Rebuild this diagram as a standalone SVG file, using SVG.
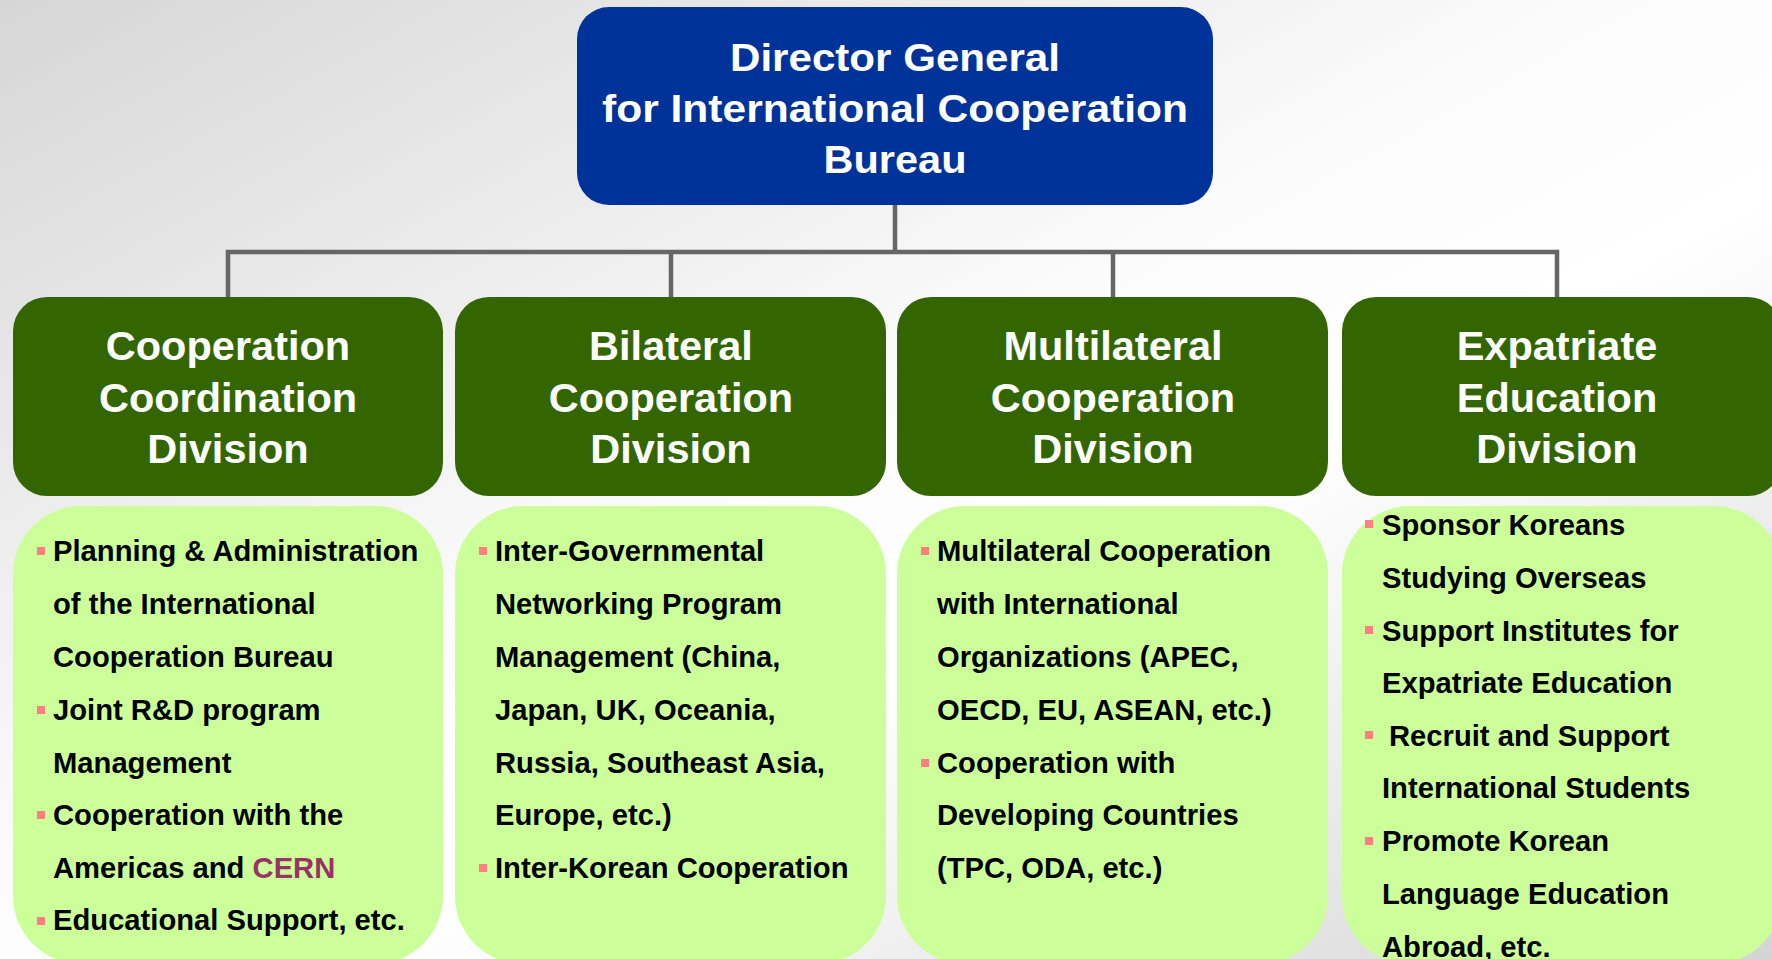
<svg xmlns="http://www.w3.org/2000/svg" width="1772" height="959" viewBox="0 0 1772 959">
<defs>
<linearGradient id="bg" x1="0" y1="0" x2="1" y2="1">
<stop offset="0" stop-color="#d6d6d6"/>
<stop offset="0.45" stop-color="#fbfbfb"/>
<stop offset="0.6" stop-color="#ffffff"/>
<stop offset="1" stop-color="#d4d4d4"/>
</linearGradient>
<style>
.top{fill:#003399}
.hdr{fill:#336600}
.body{fill:#ccff99}
.tt{font-family:"Liberation Sans",Arial,sans-serif;font-weight:bold;font-size:38px;fill:#fff;text-anchor:middle}
.ht{font-family:"Liberation Sans",Arial,sans-serif;font-weight:bold;font-size:41.5px;fill:#fff;text-anchor:middle}
.bt{font-family:"Liberation Sans",Arial,sans-serif;font-weight:bold;font-size:29.2px;fill:#000}
.cern{fill:#993366}
.bul{fill:#ff7f7f}
.conn{stroke:#666;stroke-width:4.5;fill:none}
</style>
</defs>
<rect x="0" y="0" width="1772" height="959" fill="url(#bg)"/>

<g id="connectors">
<path class="conn" d="M895 205 V252"/>
<path class="conn" d="M228 297 V252 H1557 V297"/>
<path class="conn" d="M671 252 V297"/>
<path class="conn" d="M1113 252 V297"/>
</g>

<g id="director">
<rect class="top" x="577" y="7" width="636" height="198" rx="32"/>
<text class="tt" x="895" y="71" textLength="330" lengthAdjust="spacingAndGlyphs">Director General</text>
<text class="tt" x="895" y="122" textLength="586" lengthAdjust="spacingAndGlyphs">for International Cooperation</text>
<text class="tt" x="895" y="173" textLength="143" lengthAdjust="spacingAndGlyphs">Bureau</text>
</g>

<g id="div1">
<rect class="hdr" x="13" y="297" width="430" height="199" rx="34"/>
<text class="ht" x="228" y="360">Cooperation</text>
<text class="ht" x="228" y="412">Coordination</text>
<text class="ht" x="228" y="463">Division</text>
</g>
<g id="div2">
<rect class="hdr" x="455" y="297" width="431" height="199" rx="34"/>
<text class="ht" x="671" y="360">Bilateral</text>
<text class="ht" x="671" y="412">Cooperation</text>
<text class="ht" x="671" y="463">Division</text>
</g>
<g id="div3">
<rect class="hdr" x="897" y="297" width="431" height="199" rx="34"/>
<text class="ht" x="1113" y="360">Multilateral</text>
<text class="ht" x="1113" y="412">Cooperation</text>
<text class="ht" x="1113" y="463">Division</text>
</g>
<g id="div4">
<rect class="hdr" x="1342" y="297" width="440" height="199" rx="34"/>
<text class="ht" x="1557" y="360">Expatriate</text>
<text class="ht" x="1557" y="412">Education</text>
<text class="ht" x="1557" y="463">Division</text>
</g>

<g id="tasks1">
<rect class="body" x="13" y="506" width="430" height="458" rx="68"/>
<rect class="bul" x="37" y="547" width="8" height="8"/>
<rect class="bul" x="37" y="706" width="8" height="8"/>
<rect class="bul" x="37" y="811" width="8" height="8"/>
<rect class="bul" x="37" y="917" width="8" height="8"/>
<text class="bt" x="53" y="561">Planning &amp; Administration</text>
<text class="bt" x="53" y="614">of the International</text>
<text class="bt" x="53" y="667">Cooperation Bureau</text>
<text class="bt" x="53" y="720">Joint R&amp;D program</text>
<text class="bt" x="53" y="773">Management</text>
<text class="bt" x="53" y="825">Cooperation with the</text>
<text class="bt" x="53" y="878">Americas and <tspan class="cern">CERN</tspan></text>
<text class="bt" x="53" y="930">Educational Support, etc.</text>
</g>

<g id="tasks2">
<rect class="body" x="455" y="506" width="431" height="458" rx="68"/>
<rect class="bul" x="479" y="547" width="8" height="8"/>
<rect class="bul" x="479" y="864" width="8" height="8"/>
<text class="bt" x="495" y="561">Inter-Governmental</text>
<text class="bt" x="495" y="614">Networking Program</text>
<text class="bt" x="495" y="667">Management (China,</text>
<text class="bt" x="495" y="720">Japan, UK, Oceania,</text>
<text class="bt" x="495" y="773">Russia, Southeast Asia,</text>
<text class="bt" x="495" y="825">Europe, etc.)</text>
<text class="bt" x="495" y="878">Inter-Korean Cooperation</text>
</g>

<g id="tasks3">
<rect class="body" x="897" y="506" width="431" height="458" rx="68"/>
<rect class="bul" x="921" y="547" width="8" height="8"/>
<rect class="bul" x="921" y="759" width="8" height="8"/>
<text class="bt" x="937" y="561">Multilateral Cooperation</text>
<text class="bt" x="937" y="614">with International</text>
<text class="bt" x="937" y="667">Organizations (APEC,</text>
<text class="bt" x="937" y="720">OECD, EU, ASEAN, etc.)</text>
<text class="bt" x="937" y="773">Cooperation with</text>
<text class="bt" x="937" y="825">Developing Countries</text>
<text class="bt" x="937" y="878">(TPC, ODA, etc.)</text>
</g>

<g id="tasks4">
<rect class="body" x="1342" y="506" width="440" height="458" rx="68"/>
<rect class="bul" x="1365" y="520" width="8" height="8"/>
<rect class="bul" x="1365" y="626" width="8" height="8"/>
<rect class="bul" x="1365" y="731" width="8" height="8"/>
<rect class="bul" x="1365" y="837" width="8" height="8"/>
<text class="bt" x="1382" y="535">Sponsor Koreans</text>
<text class="bt" x="1382" y="588">Studying Overseas</text>
<text class="bt" x="1382" y="641">Support Institutes for</text>
<text class="bt" x="1382" y="693">Expatriate Education</text>
<text class="bt" x="1389" y="746">Recruit and Support</text>
<text class="bt" x="1382" y="798">International Students</text>
<text class="bt" x="1382" y="851">Promote Korean</text>
<text class="bt" x="1382" y="904">Language Education</text>
<text class="bt" x="1382" y="957">Abroad, etc.</text>
</g>
</svg>
